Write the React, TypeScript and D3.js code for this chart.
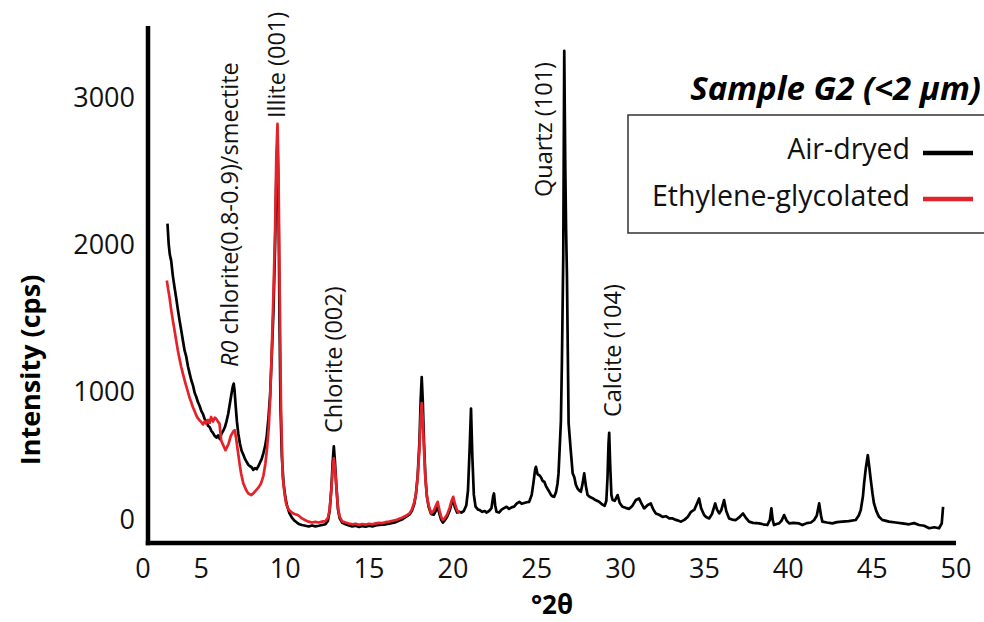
import React from "react";
import * as d3 from "d3";

// °2θ, intensity (cps) — air-dried (black)
const airDryed: [number, number][] = [
  [2.98,2145],[3.05,2010],[3.12,1935],[3.2,1894],[3.3,1790],[3.4,1713],[3.5,1640],[3.6,1560],[3.7,1487],[3.8,1420],[3.9,1350],[4.0,1283],[4.1,1240],[4.2,1175],[4.3,1127],[4.4,1080],[4.5,1045],[4.6,995],[4.7,966],[4.8,930],[4.9,905],[5.0,870],[5.1,850],[5.2,815],[5.3,800],[5.4,770],[5.5,760],[5.6,735],[5.7,720],[5.8,700],[5.9,690],[6.0,705],[6.1,680],[6.2,715],[6.3,735],[6.4,760],[6.5,800],[6.6,850],[6.7,920],[6.8,990],[6.88,1040],[6.93,1057],[6.98,1010],[7.05,900],[7.12,800],[7.2,720],[7.3,650],[7.4,600],[7.5,575],[7.6,545],[7.7,525],[7.8,505],[7.9,495],[8.0,488],[8.1,470],[8.2,482],[8.3,475],[8.4,495],[8.5,520],[8.6,545],[8.7,585],[8.8,630],[8.9,700],[9.0,820],[9.1,980],[9.2,1250],[9.3,1555],[9.4,2010],[9.47,2450],[9.54,2720],[9.6,2300],[9.66,1500],[9.72,900],[9.8,560],[9.9,380],[10.0,290],[10.1,230],[10.25,176],[10.4,145],[10.55,125],[10.7,112],[10.85,100],[11.0,95],[11.2,90],[11.4,85],[11.6,92],[11.8,86],[12.0,90],[12.2,95],[12.4,100],[12.55,125],[12.65,190],[12.75,340],[12.83,520],[12.9,631],[12.97,520],[13.05,360],[13.15,200],[13.25,140],[13.4,110],[13.6,100],[13.8,92],[14.0,85],[14.2,90],[14.4,82],[14.6,88],[14.8,84],[15.0,90],[15.2,86],[15.4,92],[15.6,95],[15.8,98],[16.0,100],[16.2,105],[16.4,110],[16.6,115],[16.8,125],[17.0,135],[17.2,150],[17.4,165],[17.55,190],[17.7,240],[17.8,310],[17.9,430],[18.0,650],[18.08,950],[18.14,1102],[18.2,950],[18.28,650],[18.36,420],[18.45,290],[18.55,220],[18.7,170],[18.85,165],[19.0,195],[19.09,219],[19.2,170],[19.3,130],[19.4,112],[19.5,125],[19.65,150],[19.8,190],[19.92,240],[20.02,265],[20.12,215],[20.25,180],[20.38,185],[20.5,180],[20.65,190],[20.8,230],[20.9,330],[21.0,620],[21.08,887],[21.16,560],[21.25,300],[21.35,220],[21.5,200],[21.6,197],[21.75,185],[21.9,190],[22.0,180],[22.15,190],[22.3,210],[22.4,290],[22.45,310],[22.52,230],[22.6,185],[22.75,180],[22.9,200],[23.05,210],[23.2,219],[23.35,205],[23.5,215],[23.65,220],[23.8,240],[23.96,253],[24.1,240],[24.25,245],[24.4,250],[24.55,253],[24.7,300],[24.8,380],[24.9,470],[24.95,491],[25.05,440],[25.15,434],[25.25,420],[25.35,395],[25.45,389],[25.55,360],[25.65,340],[25.75,321],[25.85,300],[25.95,290],[26.04,287],[26.15,320],[26.24,378],[26.3,448],[26.4,700],[26.44,800],[26.5,1200],[26.58,1915],[26.64,3320],[26.7,2550],[26.75,2100],[26.8,1800],[26.9,788],[27.03,600],[27.14,448],[27.24,420],[27.33,370],[27.43,344],[27.53,330],[27.63,321],[27.72,370],[27.83,446],[27.93,360],[28.03,299],[28.18,285],[28.33,278],[28.5,265],[28.72,253],[28.9,235],[29.05,225],[29.15,260],[29.22,420],[29.28,650],[29.32,722],[29.38,500],[29.45,300],[29.52,265],[29.65,260],[29.82,299],[29.95,245],[30.11,219],[30.3,212],[30.51,205],[30.7,225],[30.91,265],[31.1,276],[31.25,240],[31.4,208],[31.6,230],[31.8,242],[31.95,200],[32.1,174],[32.3,165],[32.5,151],[32.7,155],[32.9,140],[33.1,140],[33.3,130],[33.45,125],[33.6,118],[33.8,130],[34.0,150],[34.2,185],[34.4,200],[34.55,240],[34.68,276],[34.8,210],[34.98,163],[35.1,150],[35.28,140],[35.45,170],[35.64,242],[35.75,200],[35.88,174],[36.0,195],[36.17,265],[36.3,190],[36.47,140],[36.65,132],[36.87,129],[37.05,145],[37.3,174],[37.5,140],[37.66,118],[37.9,110],[38.1,108],[38.26,106],[38.5,100],[38.75,95],[38.9,130],[38.99,208],[39.07,130],[39.15,95],[39.3,102],[39.45,106],[39.6,125],[39.75,163],[39.9,125],[40.05,106],[40.3,110],[40.64,106],[40.84,95],[41.1,108],[41.35,112],[41.54,129],[41.7,160],[41.84,242],[41.95,160],[42.03,118],[42.3,112],[42.63,106],[42.9,115],[43.22,118],[43.6,122],[44.02,129],[44.2,160],[44.32,197],[44.45,290],[44.52,378],[44.62,480],[44.74,570],[44.83,490],[44.92,400],[45.02,310],[45.11,242],[45.25,190],[45.41,151],[45.6,130],[46.0,118],[46.4,112],[46.8,106],[47.2,100],[47.5,108],[47.8,95],[48.1,90],[48.4,73],[48.7,80],[48.99,73],[49.15,106],[49.23,219],
];

// °2θ, intensity (cps) — ethylene-glycolated (red)
const ethyleneGlycolated: [number, number][] = [
  [2.94,1759],[3.02,1700],[3.1,1645],[3.2,1560],[3.3,1487],[3.4,1420],[3.5,1350],[3.6,1283],[3.7,1225],[3.8,1170],[3.9,1125],[4.0,1080],[4.1,1040],[4.2,1000],[4.3,960],[4.4,930],[4.49,898],[4.6,870],[4.7,840],[4.8,820],[4.89,808],[5.0,795],[5.1,780],[5.2,800],[5.28,785],[5.4,810],[5.5,790],[5.58,830],[5.7,800],[5.8,825],[5.88,819],[5.98,800],[6.08,785],[6.14,720],[6.18,672],[6.3,640],[6.44,604],[6.55,630],[6.63,650],[6.75,700],[6.83,717],[6.93,735],[6.99,740],[7.08,680],[7.17,604],[7.27,520],[7.37,446],[7.5,380],[7.67,333],[7.8,310],[7.97,299],[8.1,310],[8.27,333],[8.4,350],[8.56,378],[8.7,430],[8.82,514],[8.92,620],[9.02,762],[9.1,950],[9.18,1215],[9.3,1670],[9.4,2120],[9.47,2600],[9.54,2824],[9.6,2500],[9.67,1700],[9.75,900],[9.85,423],[9.95,320],[10.05,242],[10.2,200],[10.35,185],[10.55,170],[10.75,163],[10.9,150],[11.0,140],[11.2,128],[11.4,118],[11.6,112],[11.8,116],[12.0,112],[12.2,118],[12.4,122],[12.55,145],[12.65,200],[12.75,330],[12.83,470],[12.9,548],[12.97,480],[13.05,360],[13.15,210],[13.25,150],[13.4,120],[13.6,112],[13.8,105],[14.0,100],[14.2,104],[14.4,96],[14.6,102],[14.8,98],[15.0,104],[15.2,100],[15.4,106],[15.6,110],[15.8,108],[16.0,115],[16.2,118],[16.4,124],[16.6,128],[16.8,138],[17.0,146],[17.2,158],[17.4,172],[17.55,200],[17.7,250],[17.8,310],[17.9,420],[18.0,600],[18.08,830],[18.14,925],[18.2,820],[18.28,600],[18.36,410],[18.45,290],[18.55,230],[18.7,175],[18.85,190],[19.0,230],[19.09,253],[19.2,195],[19.3,150],[19.4,129],[19.5,140],[19.65,165],[19.8,210],[19.92,260],[20.02,287],[20.12,240],[20.25,195],[20.38,176],
];

const xTicks = [0, 5, 10, 15, 20, 25, 30, 35, 40, 45, 50];
const yTicks = [0, 1000, 2000, 3000];
const seriesNames = ["Air-dryed", "Ethylene-glycolated"];
const seriesColors = ["#000000", "#e42229"];
const title = "Sample G2 (<2 µm)";

const FONT = "'Open Sans', 'Noto Sans', sans-serif";

export default function App() {
  const W = 984, H = 622;
  const x = d3.scaleLinear().domain([0, 50]).range([117.5, 956]);
  const y = d3.scaleLinear().domain([0, 3000]).range([539, 98]);
  const line = d3
    .line<[number, number]>()
    .x((d) => x(d[0]))
    .y((d) => y(d[1]));

  const axisX = 148;
  const axisY = 543;

  return (
    <>
      <style>{`body{margin:0}`}</style>
      <svg width={W} height={H} style={{ display: "block", background: "#fff" }} fontFamily={FONT}>
        {/* data */}
        <path d={line(airDryed) ?? ""} fill="none" stroke={seriesColors[0]} strokeWidth={2.7} strokeLinejoin="round" />
        <path d={line(ethyleneGlycolated) ?? ""} fill="none" stroke={seriesColors[1]} strokeWidth={2.7} strokeLinejoin="round" />

        {/* axes */}
        <line x1={axisX} y1={26} x2={axisX} y2={axisY + 2.2} stroke="#000" strokeWidth={4.5} />
        <line x1={axisX - 2.2} y1={axisY} x2={956} y2={axisY} stroke="#000" strokeWidth={4.5} />

        {yTicks.map((t) => (
          <text key={"y" + t} x={135} y={y(t) + (t === 0 ? -19 : 0)} dy="0.35em" textAnchor="end" fontSize={27} fill="#111">
            {t}
          </text>
        ))}
        {xTicks.map((t) => (
          <text key={"x" + t} x={x(t) + (t === 0 ? 25.5 : 0)} y={578} textAnchor="middle" fontSize={27} fill="#111">
            {t}
          </text>
        ))}

        <text x={552} y={614} textAnchor="middle" fontSize={26} fontWeight="bold" fill="#000">°2θ</text>
        <text transform="translate(40,370) rotate(-90)" textAnchor="middle" fontSize={27} fontWeight="bold" fill="#000">
          Intensity (cps)
        </text>

        {/* peak labels */}
        <g fontSize={23.5} fill="#111">
          <text transform="translate(238,367) rotate(-90)">
            <tspan fontStyle="italic">R0</tspan> chlorite(0.8-0.9)/smectite
          </text>
          <text transform="translate(285,118) rotate(-90)">Illite (001)</text>
          <text transform="translate(342,433) rotate(-90)">Chlorite (002)</text>
          <text transform="translate(552,197) rotate(-90)">Quartz (101)</text>
          <text transform="translate(621,417) rotate(-90)">Calcite (104)</text>
        </g>

        {/* title + legend */}
        <text x={981} y={100} textAnchor="end" fontSize={33} fontWeight="bold" fontStyle="italic" fill="#000">
          {title}
        </text>
        <rect x={628} y={115} width={370} height={118} fill="none" stroke="#333" strokeWidth={1.5} />
        {seriesNames.map((n, i) => (
          <g key={n}>
            <text x={910} y={159 + i * 47} textAnchor="end" fontSize={28.5} fill="#111">{n}</text>
            <line x1={923} x2={973} y1={153 + i * 46} y2={153 + i * 46} stroke={seriesColors[i]} strokeWidth={4.5} />
          </g>
        ))}
      </svg>
    </>
  );
}
